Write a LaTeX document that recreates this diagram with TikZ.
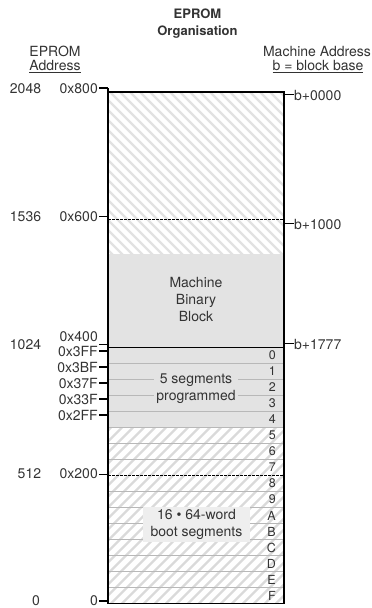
\documentclass[tikz,border=0pt]{standalone}
\usepackage{fontspec}
\setmainfont{TeX Gyre Heros}
\definecolor{txt}{HTML}{333333}
\definecolor{blockgray}{HTML}{E3E3E3}
\definecolor{htop}{HTML}{E2E2E2}
\definecolor{hbot}{HTML}{DADADA}
\definecolor{segc}{HTML}{B8B8B8}
\definecolor{labelbg}{HTML}{EEEEEE}
\begin{document}
\begin{tikzpicture}[x=1pt,y=-1pt,
  lbl/.style={text=txt, inner sep=0pt, font=\fontsize{14}{16.5}\selectfont},
  ttl/.style={text=txt, inner sep=0pt, font=\fontsize{13}{16}\selectfont\bfseries},
  segnum/.style={text=txt, inner sep=0pt, font=\fontsize{12.5}{14}\selectfont, anchor=east},
  tick/.style={line width=1.5pt, black},
  segline/.style={segc, line width=1.5pt},
  dashline/.style={black, line width=0.8pt, dash pattern=on 2.5pt off 1.5pt},
  hatch/.style={line width=2.2pt}]
\useasboundingbox (0,0) rectangle (372,608);
% fills
\fill[blockgray] (108,254) rectangle (284,427.5);
\begin{scope}
  \clip (108,92) rectangle (284,254);
  \foreach \s in {-70,-60,...,290} \draw[hatch, htop] (\s,92) -- ++(175,175);
\end{scope}
\begin{scope}
  \clip (108,427.5) rectangle (284,603.5);
  \foreach \s in {100,111,...,480} \draw[hatch, hbot] (\s,427.5) -- ++(-180,180);
\end{scope}
% segment separators
\foreach \k in {1,2,3,4,5,6,7,9,10,11,12,13,14,15} {
  \pgfmathsetmacro{\yy}{347.5+16*\k}
  \draw[segline] (108,\yy) -- (284,\yy);
}
\draw[dashline] (108,219.5) -- (284,219.5);
\draw[dashline] (108,475.5) -- (284,475.5);
\draw[line width=1.2pt] (108,347.5) -- (284,347.5);
% box
\draw[line width=1.3pt] (108,92) rectangle (284,603.5);
\draw[line width=1.3pt] (108,88) -- (108,92);

% inner labels
\node[lbl, align=center, font=\fontsize{14}{17}\selectfont] (mbb) at (196,299) {Machine\\Binary\\Block};
\node[lbl, align=center, fill=blockgray, inner xsep=2pt, inner ysep=1pt] (prog) at (196,388.5) {5 segments\\programmed};
\node[lbl, align=center, fill=labelbg, minimum width=107pt, minimum height=35pt] (boot) at (196.5,524.5) {16 \textbullet{} 64-word\\boot segments};
\foreach \n [count=\k from 0] in {0,1,2,3,4,5,6,7,8,9,A,B,C,D,E,F} {
  \pgfmathsetmacro{\yy}{355.5+16*\k}
  \node[segnum] (seg\n) at (276,\yy) {\n};
}

% titles
\node[ttl, anchor=base] (t1) at (197.5,18.7) {EPROM};
\node[ttl, anchor=base] (t2) at (197.5,35.5) {Organisation};
\node[lbl, anchor=base] (la1) at (55,56) {EPROM};
\node[lbl, anchor=base] (la2) at (55,70.5) {\underline{Address}};
\node[lbl, anchor=base] (ra1) at (317,56) {Machine Address};
\node[lbl, anchor=base] (ra2) at (318,70.5) {\underline{b = block base}};

% left labels
\node[lbl, anchor=east] (d2048) at (41.3,89) {2048};
\node[lbl, anchor=east] (d1536) at (41.3,216.7) {1536};
\node[lbl, anchor=east] (d1024) at (41.3,344.3) {1024};
\node[lbl, anchor=east] (d512) at (41.3,473.5) {512};
\node[lbl] (d0) at (36,600.7) {0};

\node[lbl, anchor=east] (h800) at (98,89) {0x800};
\node[lbl, anchor=east] (h600) at (98,216.7) {0x600};
\node[lbl, anchor=east] (h400) at (98,336.7) {0x400};
\node[lbl, anchor=east] (h3FF) at (98,351.5) {0x3FF};
\node[lbl, anchor=east] (h3BF) at (98,367.5) {0x3BF};
\node[lbl, anchor=east] (h37F) at (98,383) {0x37F};
\node[lbl, anchor=east] (h33F) at (98,399) {0x33F};
\node[lbl, anchor=east] (h2FF) at (98,415.5) {0x2FF};
\node[lbl, anchor=east] (h200) at (98,473.5) {0x200};
\node[lbl, anchor=east] (h0) at (98,600.7) {0};

\foreach \nm/\yy in {800/88, 600/216.7, 400/344.3, 3FF/351, 3BF/367, 37F/383, 33F/399, 2FF/415, 200/474.3, 0/601} {
  \coordinate (lt\nm) at (108,\yy);
  \draw[tick] (99,\yy) -- (lt\nm);
}

% right labels
\node[lbl, anchor=west] (b0) at (294,95.7) {b+0000};
\node[lbl, anchor=west] (b1) at (294,224) {b+1000};
\node[lbl, anchor=west] (b2) at (294,344.3) {b+1777};
\foreach \nm/\yy in {b0/94.7, b1/223.3, b2/343.3} {
  \coordinate (rt\nm) at (284,\yy);
  \draw[tick] (rt\nm) -- (\nm.west |- rt\nm);
}
\end{tikzpicture}
\end{document}
